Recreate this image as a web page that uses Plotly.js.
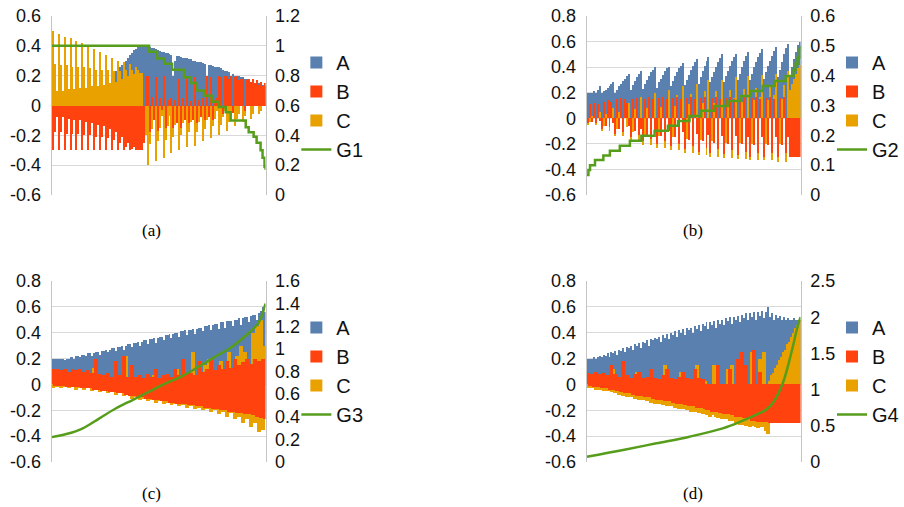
<!DOCTYPE html>
<html><head><meta charset="utf-8">
<script src="https://cdn.plot.ly/plotly-3.0.1.min.js"></script>
<style>html,body{margin:0;padding:0;background:#fff}#chart{width:904px;height:507px}</style>
</head><body><div id="chart"></div>
<script>
// ---------- Panel (a) ----------
const aA = [0,0,0,0,0,0,0,0,0,0,0,0,0,0,0,0,0,0,0,0,0,0,0,0,0,0,0,0,0,0,
 0.21,0.22,0.23,0.24,0.26,0.27,0.29,0.30,0.32,0.34,0.35,0.37,0.38,0.39,0.40,0.40,
 0.40,0.40,0.40, 0.39,0.385,0.385,0.38, 0.37,0.365,0.36,0.36, 0.35,0.35,0.345,0.34, 0.20,0.30,
 0.33,0.33,0.325,0.32,0.32, 0.32,0.315,0.31, 0.30,0.30,0.295, 0.29,0.29,0.285,0.28, 0.20,
 0.27,0.27,0.265, 0.26,0.26,0.255, 0.25, 0.235,0.23,0.23,0.225, 0.17,
 0.21,0.20,0.20,0.20,0.19,0.19,0.18,0.18,0.17, 0.16,0.16,0.15,0.15,0.15,0.14,0.14,0.13];
const aB = [-0.30,-0.18,-0.08, -0.30,-0.18,-0.08, -0.30,-0.19,-0.09, -0.30,-0.19,-0.10, -0.30,-0.19,-0.10,
 -0.30,-0.20,-0.11, -0.30,-0.20,-0.12, -0.30,-0.21,-0.13, -0.30,-0.21,-0.14, -0.30,-0.22,-0.16,
 -0.30,-0.23,-0.18, -0.30,-0.25,-0.21, -0.30,-0.28,-0.25, -0.30,-0.29,-0.28, -0.30,-0.30,-0.30, -0.30,
 -0.25,0.20,
 0.20,-0.18,0.06,-0.10, 0.19,-0.17,0.05,-0.03, 0.20,-0.15,0.04,0.03, 0.05,-0.15,0.04,-0.12,
 0.18,-0.15,0.05,-0.10, 0.20,-0.12,0.03,-0.10, 0.19,-0.12,0.04,-0.08, 0.05,-0.10,0.20,-0.08,
 0.19,-0.10,0.04,0.05, 0.20,0.19,-0.06,0.20, 0.20,0.18,0.20,-0.05, 0.19,0.20,0.17,0.18,
 0.18,-0.04,0.17,0.18, 0.16,0.18,0.15,0.17, 0.14,0.16,0.13,0.15];
const aC = [0.50,0.28,0.10, 0.48,0.27,0.10, 0.46,0.27,0.11, 0.45,0.26,0.11, 0.43,0.26,0.12,
 0.42,0.26,0.12, 0.40,0.25,0.13, 0.38,0.24,0.13, 0.36,0.24,0.14, 0.34,0.24,0.15,
 0.32,0.23,0.16, 0.30,0.23,0.18, 0.29,0.24,0.20, 0.28,0.24,0.21, 0.26,0.24,0.22, 0.22,
 -0.05,-0.20,
 -0.40,-0.26,-0.16,-0.08, -0.37,-0.24,-0.15,-0.07, -0.35,-0.23,-0.14,-0.07, -0.32,-0.21,-0.13,-0.06,
 -0.30,-0.20,-0.12,-0.06, -0.28,-0.18,-0.11,-0.06, -0.27,-0.18,-0.11,-0.05, -0.24,-0.16,-0.10,-0.05,
 -0.22,-0.14,-0.09,-0.04, -0.20,-0.13,-0.08,-0.04, -0.17,-0.11,-0.07,-0.03, -0.14,-0.09,-0.06,0.04,
 -0.11,-0.07,0.05,0.04, -0.09,-0.06,0.05,0.04, -0.06,-0.04,0.05,0.04];
const g1x = [-0.5,48.7,52.7,56.3,60.3,66.3,69.8,72.8,76.4,80.4,83.9,87.4,89.9,97.5,99.0,101.5,103.0,105.0,106.0,107.0,107.5];
const g1y = [1.0,0.96,0.915,0.88,0.84,0.79,0.75,0.70,0.665,0.625,0.59,0.555,0.50,0.455,0.42,0.39,0.35,0.30,0.25,0.19,0.17];

// ---------- Panel (b) ----------
const bA = [0.20,0.20,0.20,0.21,0.20,0.22, 0.25,
 0.20,0.21,0.22,0.24,0.25,0.27,0.28,
 0.20,0.22,0.25,0.27,0.29,0.31,0.33,0.35,
 0.22,0.26,0.29,0.32,0.35,0.37,
 0.23,0.27,0.30,0.33,0.36,0.38,0.40,
 0.24,0.28,0.31,0.34,0.37,0.39,0.40,
 0.25,0.29,0.33,0.36,0.39,0.41,0.43,
 0.26,0.30,0.34,0.38,0.41,0.44,0.46,
 0.27,0.32,0.37,0.41,0.45,0.48,
 0.28,0.32,0.36,0.40,0.44,0.47,0.50,
 0.28,0.33,0.37,0.41,0.45,0.48,0.50,
 0.30,0.35,0.40,0.45,0.49,0.52,
 0.30,0.35,0.40,0.44,0.48,0.51,0.54,
 0.31,0.36,0.41,0.45,0.49,0.53,0.56,
 0.32,0.38,0.44,0.50,0.55,0.58,
 0.34,0.40,0.46,0.52,0.57,0.60];
const bB = [-0.04,0.11,-0.03,0.12,-0.04,0.11,-0.02,
 -0.08,0.13,-0.06,0.14,-0.07,0.13,-0.04,
 -0.12,0.15,-0.08,0.16,-0.11,0.15,0.12,-0.06,
 -0.15,0.15,-0.10,0.16,-0.13,-0.08,
 -0.18,0.15,-0.13,0.17,-0.16,0.15,-0.09,
 -0.20,0.16,-0.14,0.17,-0.18,0.15,-0.10,
 -0.22,0.16,-0.15,0.17,-0.20,0.15,-0.11,
 -0.24,0.16,-0.17,0.17,-0.22,0.15,-0.12,
 -0.26,0.16,-0.18,0.17,-0.23,-0.13,
 -0.27,0.16,-0.19,0.17,-0.24,0.15,-0.14,
 -0.28,0.16,-0.20,0.17,-0.25,0.15,-0.14,
 -0.29,0.16,-0.20,0.17,-0.26,-0.15,
 -0.30,0.16,-0.21,0.17,-0.27,0.15,-0.15,
 -0.30,0.16,-0.21,0.17,-0.27,0.15,-0.15,
 -0.30,0.16,-0.21,0.17,-0.27,-0.15,
 -0.30,-0.30,-0.30,-0.30,-0.30,-0.30];
const bC = [-0.05,-0.03,0.02,0.04,-0.05,0.03,0.05,
 -0.10,-0.06,0.03,0.06,-0.10,0.04,0.08,
 -0.14,-0.08,0.05,0.08,-0.14,0.06,-0.07,0.12,
 -0.18,-0.11,0.07,0.12,-0.18,0.17,
 -0.21,-0.13,0.08,0.14,-0.21,0.10,0.20,
 -0.23,-0.14,0.09,0.15,-0.23,0.11,0.22,
 -0.25,-0.15,0.10,0.18,-0.25,0.12,0.25,
 -0.27,-0.16,0.11,0.19,-0.27,0.13,0.27,
 -0.29,-0.17,0.12,0.21,-0.29,0.30,
 -0.30,-0.18,0.12,0.21,-0.30,0.15,0.30,
 -0.31,-0.19,0.13,0.22,-0.31,0.16,0.32,
 -0.32,-0.19,0.13,0.23,-0.32,0.33,
 -0.33,-0.20,0.14,0.24,-0.33,0.17,0.34,
 -0.33,-0.20,0.14,0.25,-0.33,0.18,0.35,
 -0.34,-0.20,0.15,0.26,-0.34,0.37,
 0.22,0.27,0.31,0.35,0.39,0.42];
const g2x = [-0.5,0.35,1.16,3.67,7.89,11.2,16.2,21.3,27.1,33.8,40.5,45.6,51.4,57.3,63.9,70.7,77.4,82.4,88.4,94.4,100.0,104.0,105.0,106.0,107.0,107.5];
const g2y = [0.067,0.084,0.10,0.117,0.132,0.148,0.165,0.182,0.199,0.215,0.232,0.248,0.265,0.282,0.298,0.315,0.332,0.349,0.365,0.382,0.399,0.42,0.44,0.46,0.49,0.50];

// ---------- Panel (c) ----------
const cA = [0.20,0.20,0.20,0.20,0.20,0.20,0.19,0.20,0.20,
 0.21,0.21,0.20,0.22,0.22,0.21,0.23,0.23,0.22,0.24,0.24,0.22,0.24,0.25,0.25,
 0.23,0.26,0.26,0.27,0.25,0.27,0.28,0.28,0.26,0.29,0.29,0.30,0.27,0.30,0.31,0.31,0.29,
 0.32,0.32,0.33,0.30,0.33,0.34,0.34,0.31,0.35,0.35,0.36,0.32,0.36,0.37,0.37,0.34,0.38,
 0.38,0.39,0.36,0.39,0.40,0.40,0.37,0.41,0.41,0.42,0.38,0.42,0.42,0.43,0.39,0.43,0.44,
 0.44,0.41,0.45,0.45,0.46,0.42,0.46,0.47,0.47,0.43,0.48,0.48,0.44,0.49,0.49,0.49,
 0.45,0.50,0.50,0.51,0.46,0.51,0.52,0.52,0.48,0.53,0.54,0.54,0.50,0.55,0.57,0.60,0.56];
const cB = [0.12,-0.01,0.12,-0.01,0.11,-0.01,0.12,-0.02,0.10,-0.02,0.12,-0.02,0.11,-0.02,0.12,-0.03,
 0.10,-0.03,0.11,-0.03,0.09,-0.04,0.20,-0.04,0.08,-0.05,0.07,-0.05,0.09,-0.06,0.06,-0.06,
 0.18,-0.07,0.07,-0.07,0.22,-0.08,0.06,-0.09,0.15,-0.09,0.06,-0.10,0.07,-0.10,0.05,-0.11,
 0.08,-0.11,0.06,-0.12,0.12,-0.12,0.05,-0.13,0.07,-0.13,0.08,-0.14,0.06,-0.14,0.12,-0.15,
 0.07,-0.15,0.20,-0.15,0.08,-0.16,0.09,-0.16,0.07,-0.17,0.18,-0.17,0.10,-0.18,0.12,-0.18,
 0.20,-0.19,0.11,-0.19,0.15,-0.20,0.12,-0.20,0.18,-0.21,0.13,-0.21,0.20,-0.22,0.15,-0.22,
 0.17,-0.23,0.20,-0.23,0.16,-0.24,0.20,-0.25,0.18,-0.26,0.20,-0.27];
const cC = [-0.03,0.02,-0.02,0.02,-0.03,0.03,-0.02,0.02,-0.03,0.03,-0.02,0.11,-0.04,0.10,-0.03,0.02,
 -0.04,0.03,-0.03,0.02,-0.05,0.13,-0.04,0.02,-0.06,0.03,-0.05,0.02,-0.07,0.03,-0.06,0.02,
 -0.08,0.03,-0.07,0.02,-0.09,0.22,-0.08,0.02,-0.11,0.05,-0.10,0.02,-0.12,0.03,-0.11,0.02,
 -0.13,0.03,-0.12,0.07,-0.14,0.02,-0.13,0.03,-0.15,0.02,-0.14,0.03,-0.16,0.02,-0.15,0.12,
 -0.17,0.02,-0.16,0.03,-0.18,0.02,-0.17,0.25,-0.19,0.03,-0.18,0.02,-0.20,0.15,-0.19,0.20,
 -0.21,0.03,-0.20,0.02,-0.23,0.18,-0.21,0.03,-0.25,0.25,-0.22,0.02,-0.27,0.22,-0.25,0.30,
 -0.30,0.25,-0.27,0.03,-0.33,0.40,-0.30,0.45,-0.37,0.50,-0.35,0.30];
const g3x = [-0.5,6.9,15.2,23.6,32.0,40.3,48.7,57.1,65.5,73.8,82.2,90.6,99.0,104.0,106.0,107.0,107.5];
const g3y = [0.22,0.247,0.298,0.386,0.475,0.548,0.622,0.696,0.760,0.843,0.931,1.019,1.14,1.23,1.31,1.37,1.40];

// ---------- Panel (d) ----------
const dA = [0.20,0.20,0.20,0.21,0.20,0.21,
 0.22,0.21,0.23,0.22,0.24,0.21,0.25,0.24,0.26,0.23,0.27,0.26,
 0.28,0.25,0.29,0.28,0.30,0.27,0.31,0.30,0.32,0.28,0.33,0.32,0.34,0.30,0.35,0.34,0.36,
 0.35,0.37,0.33,0.38,0.36,0.39,0.35,0.40,0.38,0.41,0.37,0.42,0.40,0.43,0.38,0.44,0.42,
 0.44,0.40,0.45,0.43,0.46,0.41,0.47,0.45,0.48,0.43,0.48,0.46,0.49,0.44,0.50,0.47,0.50,
 0.46,0.51,0.49,0.52,0.47,0.52,0.50,0.53,0.48,0.54,0.51,0.55,0.50,0.55,0.52,0.56,0.50,0.56,0.53,0.57,0.51,0.56,
 0.60,0.52,0.55,0.50,0.54,0.51,0.53,0.50,0.52,0.50,0.51,0.50,0.50,0.51,0.50,0.50,0.50];
const dB = [0.09,-0.01,0.08,-0.02,0.10,-0.02,0.08,-0.03,0.09,-0.03,0.07,-0.04,0.15,-0.04,0.08,-0.05,
 0.06,-0.06,0.18,-0.07,0.07,-0.07,0.05,-0.08,0.08,-0.09,0.10,-0.09,0.05,-0.10,0.06,-0.10,
 0.12,-0.11,0.05,-0.12,0.04,-0.12,0.07,-0.13,0.12,-0.13,0.05,-0.14,0.04,-0.15,0.06,-0.15,
 0.10,-0.16,0.05,-0.17,0.04,-0.17,0.12,-0.18,0.05,-0.18,0.04,-0.19,
 -0.20,-0.19,-0.20,-0.21,-0.20,-0.21,0.15,-0.22,-0.22,-0.23,-0.22,-0.23,0.12,-0.24,-0.24,-0.25,
 0.20,-0.25,0.25,-0.26,0.15,-0.27,-0.27,-0.28,0.27,-0.28,-0.29,0.10,-0.29,-0.29,-0.29,-0.29,
 -0.30,-0.30,-0.30,-0.30,-0.30,-0.30,-0.30,-0.30,-0.30,-0.30,-0.30,-0.30,-0.30,-0.30,-0.30,-0.30];
const dC = [-0.03,0.02,-0.03,0.02,-0.04,0.03,-0.04,0.02,-0.05,0.02,-0.05,0.03,-0.06,0.12,-0.07,0.02,
 -0.08,0.03,-0.09,0.02,-0.10,0.03,-0.10,0.02,-0.11,0.10,-0.12,0.02,-0.12,0.03,-0.13,0.02,
 -0.14,0.03,-0.15,0.02,-0.15,0.03,-0.16,0.15,-0.17,0.02,-0.17,0.03,-0.18,0.02,-0.19,0.10,
 -0.19,0.02,-0.20,0.03,-0.21,0.02,-0.21,0.15,-0.22,0.02,-0.23,0.03,
 -0.24,-0.23,-0.25,-0.24,0.15,-0.25,-0.26,-0.25,-0.27,-0.26,-0.27,0.12,-0.28,0.15,-0.28,-0.30,
 -0.29,-0.31,-0.30,-0.31,-0.32,-0.31,-0.33,0.25,-0.32,-0.33,-0.34,0.20,-0.33,0.25,-0.36,-0.38,
 0.03,0.07,0.09,0.13,0.15,0.19,0.21,0.25,0.27,0.31,0.33,0.37,0.40,0.44,0.46,0.50];
const g4x = [-0.5,17.9,34.7,51.4,68.2,77.4,84.9,89.9,93.4,98.5,101.5,104.0,106.0,107.5];
const g4y = [0.073,0.166,0.258,0.35,0.465,0.56,0.65,0.72,0.81,1.087,1.363,1.64,1.87,2.0];

// ---------- Ticks / labels ----------
const leftTicks6 = [-0.6,-0.4,-0.2,0,0.2,0.4,0.6];
const leftText6 = ['-0.6','-0.4','-0.2','0','0.2','0.4','0.6'];
const leftTicks8 = [-0.6,-0.4,-0.2,0,0.2,0.4,0.6,0.8];
const leftText8 = ['-0.6','-0.4','-0.2','0','0.2','0.4','0.6','0.8'];
const rTicksA = [0,0.2,0.4,0.6,0.8,1,1.2], rTextA = ['0','0.2','0.4','0.6','0.8','1','1.2'];
const rTicksB = [0,0.1,0.2,0.3,0.4,0.5,0.6], rTextB = ['0','0.1','0.2','0.3','0.4','0.5','0.6'];
const rTicksC = [0,0.2,0.4,0.6,0.8,1,1.2,1.4,1.6], rTextC = ['0','0.2','0.4','0.6','0.8','1','1.2','1.4','1.6'];
const rTicksD = [0,0.5,1,1.5,2,2.5], rTextD = ['0','0.5','1','1.5','2','2.5'];
const seriesNames = ['A','B','C'];
const lineNames = ['G1','G2','G3','G4'];
const captions = ['(a)','(b)','(c)','(d)'];

const N = aA.length;
const idx = Array.from({length: N}, (_, i) => i);
const COL = {A:'#5a80b0', B:'#ff420e', C:'#e9a100', G:'#579d1c'};

function panelTraces(n, A, B, C, gx, gy, barW, gshape) {
  const xa = n === 1 ? 'x' : 'x' + n;
  const yl = (2*n-1) === 1 ? 'y' : 'y' + (2*n-1);
  const yr = 'y' + (2*n);
  const lg = n === 1 ? 'legend' : 'legend' + n;
  const bar = (vals, name, rank, w) => ({type:'bar', x: idx, y: vals, xaxis: xa, yaxis: yl, name: name,
    width: w, marker:{color: COL[name], line:{width:0}}, legend: lg, legendrank: rank,
    legendgroup: name + n, hoverinfo:'skip'});
  return [
    bar(A, seriesNames[0], 1, 1),
    bar(C, seriesNames[2], 3, barW),
    bar(B, seriesNames[1], 2, barW),
    {type:'scatter', mode:'lines', x: gx, y: gy, xaxis: xa, yaxis: yr, name: lineNames[n-1],
     line:{color: COL.G, width: 2.5, shape: gshape}, legend: lg, legendrank: 4, legendgroup: 'G'+n, hoverinfo:'skip'}
  ];
}

const data = [].concat(
  panelTraces(1, aA, aB, aC, g1x, g1y, 1, 'hv'),
  panelTraces(2, bA, bB, bC, g2x, g2y, 1, 'hv'),
  panelTraces(3, cA, cB, cC, g3x, g3y, 2, 'spline'),
  panelTraces(4, dA, dB, dC, g4x, g4y, 2, 'spline')
);

const W = 904, H = 507;
const xDomL = [52/W, 267/W], xDomR = [590/W, 805/W];
const yDomT = [(H-195)/H, (H-16)/H], yDomB = [(H-462)/H, (H-281)/H];
const tickFont = {family:'Liberation Sans, Arial, sans-serif', size:18, color:'#111'};
const GRID = '#d9d9d9', LINE = '#c4c4c4';

function xAx(dom, yA) { return {domain: dom, range:[-0.5, N-0.5], showticklabels:false, showgrid:false,
  zeroline:false, showline:false, ticks:'', anchor: yA, fixedrange:true}; }
function yLeft(dom, range, tv, tt, xA) { return {domain: dom, range: range, tickmode:'array', tickvals: tv, ticktext: tt,
  showgrid:true, gridcolor: GRID, gridwidth:1, zeroline:false, showline:true, linecolor: LINE, linewidth:1,
  ticks:'', tickfont: tickFont, ticklabelstandoff: 6, anchor: xA, fixedrange:true}; }
function yRight(over, range, tv, tt, xA) { return {overlaying: over, side:'right', range: range, tickmode:'array',
  tickvals: tv, ticktext: tt, showgrid:false, zeroline:false, showline:true, linecolor: LINE, linewidth:1,
  ticks:'', tickfont: tickFont, ticklabelstandoff: 5, anchor: xA, fixedrange:true}; }
function leg(xpx, ypx) { return {x: xpx/W, y: (H-ypx)/H, xanchor:'left', yanchor:'top',
  font:{family:'Liberation Sans, Arial, sans-serif', size:20, color:'#111'}, bgcolor:'rgba(0,0,0,0)',
  borderwidth:0, tracegroupgap: 0, itemwidth: 30}; }
function cap(text, xpx, ypx) { return {text: text, xref:'paper', yref:'paper', x: xpx/W, y: (H-ypx)/H,
  showarrow:false, xanchor:'center', yanchor:'middle', font:{family:'Liberation Serif, Times New Roman, serif', size:17, color:'#000'}}; }

const layout = {
  width: W, height: H, autosize:false, margin:{l:0, r:0, t:0, b:0},
  paper_bgcolor:'#fff', plot_bgcolor:'rgba(0,0,0,0)',
  barmode:'overlay', bargap:0, showlegend:true,
  font:{family:'Liberation Sans, Arial, sans-serif', color:'#111'},
  xaxis: xAx(xDomL, 'y'), yaxis: yLeft(yDomT, [-0.6,0.6], leftTicks6, leftText6, 'x'),
  yaxis2: yRight('y', [0,1.2], rTicksA, rTextA, 'x'),
  xaxis2: xAx(xDomR, 'y3'), yaxis3: yLeft(yDomT, [-0.6,0.8], leftTicks8, leftText8, 'x2'),
  yaxis4: yRight('y3', [0,0.6], rTicksB, rTextB, 'x2'),
  xaxis3: xAx(xDomL, 'y5'), yaxis5: yLeft(yDomB, [-0.6,0.8], leftTicks8, leftText8, 'x3'),
  yaxis6: yRight('y5', [0,1.6], rTicksC, rTextC, 'x3'),
  xaxis4: xAx(xDomR, 'y7'), yaxis7: yLeft(yDomB, [-0.6,0.8], leftTicks8, leftText8, 'x4'),
  yaxis8: yRight('y7', [0,2.5], rTicksD, rTextD, 'x4'),
  legend: leg(298, 43), legend2: leg(837, 43), legend3: leg(298, 308), legend4: leg(837, 308),
  annotations: [cap(captions[0], 152, 230), cap(captions[1], 697, 230), cap(captions[2], 152, 493), cap(captions[3], 697, 493)]
};

Plotly.newPlot('chart', data, layout, {displayModeBar:false, staticPlot:true});
</script>
</body></html>
